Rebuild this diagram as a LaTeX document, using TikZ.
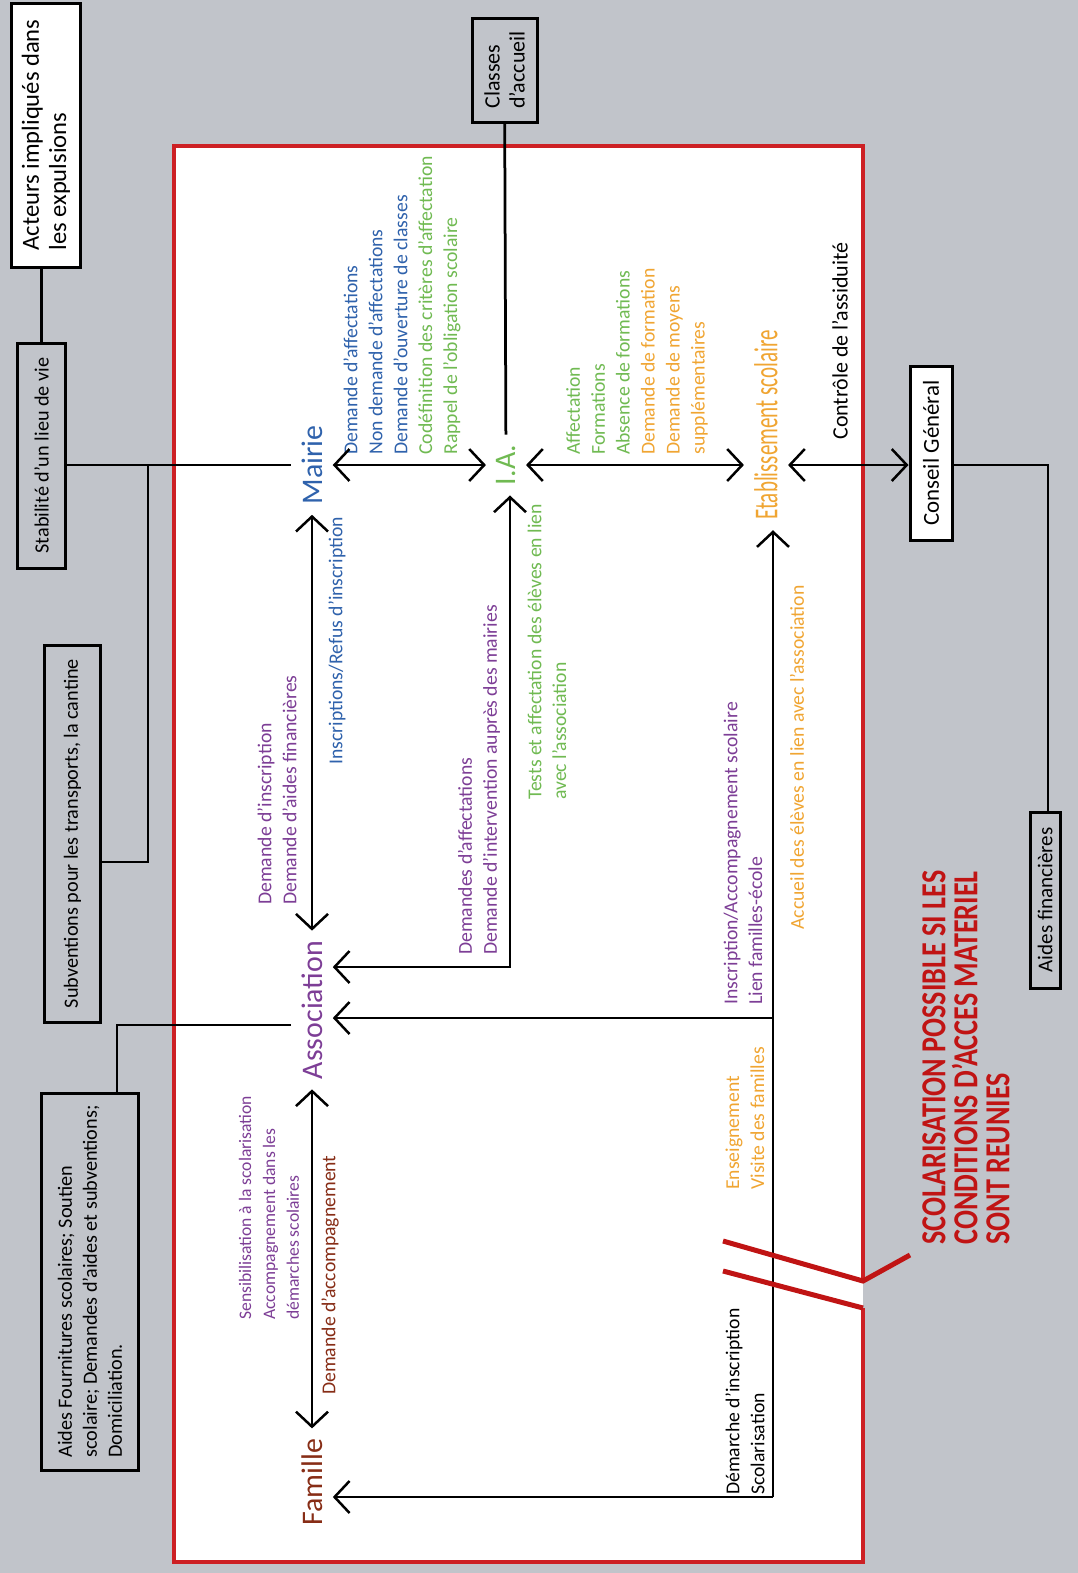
\documentclass[tikz,border=0pt]{standalone}
\usepackage{fontspec}
\setmainfont{Carlito}
\usetikzlibrary{arrows.meta}

\definecolor{bggray}{RGB}{193,196,202}
\definecolor{cframe}{RGB}{205,32,36}
\definecolor{cred}{RGB}{192,20,20}
\definecolor{cblue}{RGB}{47,98,172}
\definecolor{cgreen}{RGB}{112,186,82}
\definecolor{corange}{RGB}{240,165,50}
\definecolor{cpurple}{RGB}{125,62,150}
\definecolor{cbrown}{RGB}{135,45,22}

\begin{document}
\begin{tikzpicture}[x=0.2mm,y=-0.2mm]

% definitions
\tikzstyle{actor} = [rotate=90, inner sep=2mm, font=\fontsize{17}{20}\selectfont]

\tikzstyle{relation} = [rotate=90, anchor=west, inner sep=0pt, align=left, font=\fontsize{11.2}{14.2}\selectfont]

\tikzstyle{whitebox} = [rectangle, rotate=90, draw=black, line width=0.6mm, fill=white, align=left, font=\fontsize{11.5}{14}\selectfont]

\tikzstyle{graybox} = [rectangle, rotate=90, draw=black, line width=0.6mm, fill=bggray, align=left, font=\fontsize{11.5}{14.2}\selectfont]

\tikzstyle{connector} = [line width=0.55mm]

\tikzstyle{arrow} = [->, >={Straight Barb[length=3mm,width=6.4mm]}, line width=0.5mm]

\tikzstyle{dblarrow} = [<->, >={Straight Barb[length=3mm,width=6.4mm]}, line width=0.5mm]

\tikzstyle{breakmark} = [draw=cred, line width=1mm, line join=miter]

% background and frame
\useasboundingbox (0,0) rectangle (1078,1573);
\fill[bggray] (0,0) rectangle (1078,1573);
\fill[white] (174,146) rectangle (863,1562);
\draw[draw=cframe, line width=0.8mm] (863,1281) -- (863,146) -- (174,146) -- (174,1562) -- (863,1562) -- (863,1308);

% the boxes
\node (acteurs) [whitebox, minimum width=52.8mm, minimum height=13.6mm, font=\fontsize{14}{15.5}\selectfont] at (46,135) {Acteurs impliqués dans\\les expulsions};

\node (stab) [graybox, minimum width=45mm, minimum height=9.4mm] at (41.5,455.5) {Stabilité d'un lieu de vie};

\node (subv) [graybox, minimum width=75.4mm, minimum height=11mm] at (72.5,833.5) {Subventions pour les transports, la cantine};

\node (fourn) [graybox, minimum width=75.4mm, minimum height=19.2mm] at (90,1281.5) {Aides Fournitures scolaires; Soutien\\scolaire; Demandes d'aides et subventions;\\Domiciliation.};

\node (classes) [graybox, minimum width=20.8mm, minimum height=13mm, font=\fontsize{12.5}{14.2}\selectfont] at (504.5,70) {Classes\\d'accueil};

\node (conseil) [whitebox, minimum width=34.8mm, minimum height=8.4mm, font=\fontsize{13}{15}\selectfont] at (931,453) {Conseil Général};

\node (aidesfin) [graybox, minimum width=35.2mm, minimum height=6mm, inner sep=0pt, font=\fontsize{12}{14}\selectfont] at (1045,900) {Aides financières};

% the actors
\node (mairie) [actor, text=cblue] at (312,465) {Mairie};
\node (ia) [actor, text=cgreen] at (506,465) {I.A.};
\node (etab) [actor, text=corange, font=\fontsize{19}{22}\selectfont] at (766,425) {\scalebox{0.63}[1]{Etablissement scolaire}};
\node (assoc) [actor, text=cpurple] at (312,1010) {Association};
\node (famille) [actor, text=cbrown] at (312,1482) {Famille};

% the labels
\node (lmi) [relation, text=cblue] at (402,455) {Demande d'affectations\\Non demande d'affectations\\Demande d'ouverture de classes\\\textcolor{cgreen}{Codéfinition des critères d'affectation}\\\textcolor{cgreen}{Rappel de l'obligation scolaire}};

\node (lie) [relation, text=cgreen] at (637,455) {Affectation\\Formations\\Absence de formations\\\textcolor{corange}{Demande de formation}\\\textcolor{corange}{Demande de moyens}\\\textcolor{corange}{supplémentaires}};

\node (lma) [relation, text=cpurple] at (277,905) {Demande d'inscription\\Demande d'aides financières};

\node (lam) [relation, text=cblue] at (337,765) {Inscriptions/Refus d'inscription};

\node (lai) [relation, text=cpurple] at (479,955) {Demandes d'affectations\\Demande d'intervention auprès des mairies};

\node (lia) [relation, text=cgreen] at (547,800) {Tests et affectation des élèves en lien\\avec l'association};

\node (lae) [relation, text=cpurple] at (743,1005) {Inscription/Accompagnement scolaire\\Lien familles-école};

\node (lea) [relation, text=corange] at (797,930) {Accueil des élèves en lien avec l'association};

\node (lef) [relation, text=corange] at (745,1190) {Enseignement\\Visite des familles};

\node (lfe) [relation, text=black] at (745,1495) {Démarche d'inscription\\Scolarisation};

\node (laf) [relation, text=cpurple, font=\fontsize{10}{13.6}\selectfont] at (269,1320) {Sensibilisation à la scolarisation\\Accompagnement dans les\\démarches scolaires};

\node (lfa) [relation, text=cbrown] at (330,1395) {Demande d'accompagnement};

\node (lcg) [relation, text=black, font=\fontsize{12.5}{15}\selectfont] at (840,440) {Contrôle de l'assiduité};

\node (scol) [relation, text=cred, font=\fontsize{20}{18.2}\selectfont\bfseries] at (966,1245) {\scalebox{0.8}[1]{SCOLARISATION POSSIBLE SI LES}\\\scalebox{0.8}[1]{CONDITIONS D'ACCES MATERIEL}\\\scalebox{0.8}[1]{SONT REUNIES}};

% outside links
\coordinate (ksub) at (148,862);
\coordinate (kfourn) at (117,1025);
\coordinate (kaf) at (1048,465);

\draw [connector] (stab.east) -- (stab.east |- acteurs.west);
\draw [connector] (stab.south |- mairie) -- (mairie);
\draw [connector] (ksub |- mairie) -- (ksub) -- (ksub -| subv.south);
\draw [connector] (kfourn -| assoc.north) -- (kfourn) -- (kfourn |- fourn.east);
\draw [connector] (classes) -- (ia);
\draw [connector] (conseil.south |- kaf) -- (kaf) -- (kaf |- aidesfin.east);

% relations
\coordinate (kia) at (510,967);
\coordinate (kasso) at (773,1018);
\coordinate (kfam) at (773,1497);

\draw [dblarrow] (mairie) -- (ia);
\draw [dblarrow] (ia) -- (ia -| etab.north);
\draw [dblarrow] (etab.south |- ia) -- (conseil.north |- ia);
\draw [dblarrow] (mairie) -- (assoc);
\draw [dblarrow] (assoc) -- (famille);
\draw [dblarrow] (kia -| assoc.south) -- (kia) -- (kia |- ia.west);
\draw [arrow] (kfam) -- (kfam |- etab.west);
\draw [arrow] (kasso) -- (kasso -| assoc.south);
\draw [arrow] (kfam) -- (kfam -| famille.south);

% break mark
\draw [breakmark] (723,1241) -- (863,1281) -- (910,1255);
\draw [breakmark] (723,1271) -- (863,1308);

\end{tikzpicture}
\end{document}
